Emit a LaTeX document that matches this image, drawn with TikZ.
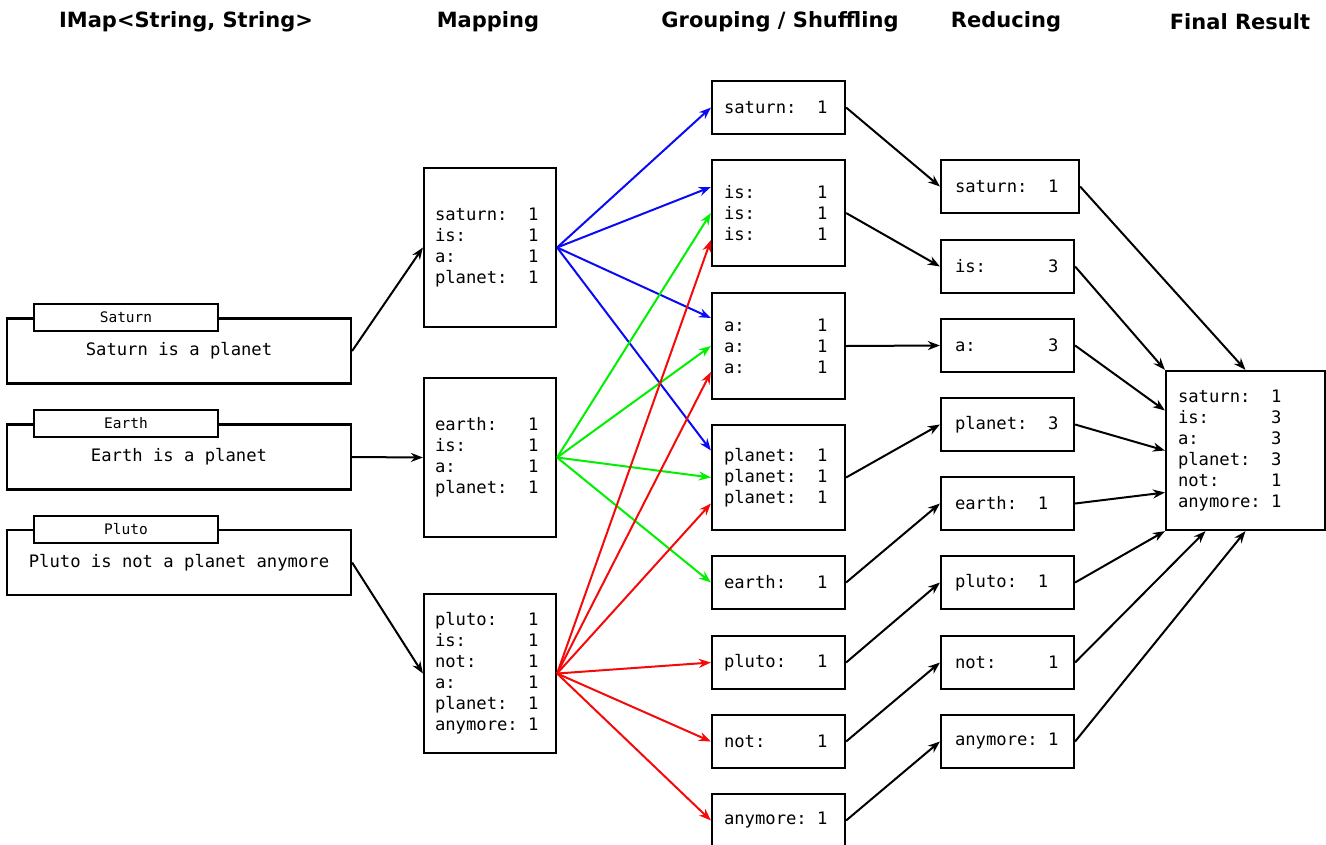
\documentclass[tikz,border=0pt]{standalone}
\usepackage{fontspec}
\setmainfont{DejaVu Sans}
\setmonofont{DejaVu Sans Mono}
\usetikzlibrary{arrows.meta,calc}
\newlength\mycw
\newcommand\kvline[3][9]{\settowidth\mycw{0}\makebox[#1\mycw][l]{#2}#3}
\definecolor{mblue}{RGB}{10,10,245}
\definecolor{mgreen}{RGB}{0,240,0}
\definecolor{mred}{RGB}{245,10,10}
\tikzset{
  x=1pt,y=-1pt,
  mono/.style={font=\ttfamily\fontsize{17.2}{21}\selectfont},
  frame/.style={draw, line width=2.2pt, fill=white, inner ysep=0pt},
  inbox/.style={frame, mono, minimum width=344, minimum height=65},
  tabbox/.style={frame, font=\ttfamily\fontsize{14.5}{16}\selectfont, minimum width=184, minimum height=27},
  mapbox/.style={frame, mono, align=left, text width=110, inner xsep=11, minimum height=159},
  shufbox/.style={frame, mono, align=left, text width=109, inner xsep=12},
  redbox/.style={frame, mono, align=left, text width=105, inner xsep=14, minimum height=53},
  finbox/.style={frame, mono, align=left, text width=135, inner xsep=12, minimum height=159},
  title/.style={font=\bfseries\fontsize{21}{25}\selectfont},
  arr/.style={-{Stealth[length=12pt,width=9pt]}, line width=2pt},
}
\begin{document}
\begin{tikzpicture}
\useasboundingbox (0,0) rectangle (1326,844);

% titles
\node[title] (t1) at (186,22) {IMap<String, String>};
\node[title] (t2) at (488,22) {Mapping};
\node[title] (t3) at (780,22) {Grouping / Shuffling};
\node[title] (t4) at (1006,22) {Reducing};
\node[title] (t5) at (1240,22) {Final Result};

% inputs
\node[inbox] (in1) at (179,351) {Saturn is a planet};
\node[tabbox] (tab1) at (126,317.5) {Saturn};
\node[inbox] (in2) at (179,457) {Earth is a planet};
\node[tabbox] (tab2) at (126,423.5) {Earth};
\node[inbox] (in3) at (179,562.5) {Pluto is not a planet anymore};
\node[tabbox] (tab3) at (126,529.5) {Pluto};

% mapping
\node[mapbox] (m1) at (490,247.5) {\kvline{saturn:}{1}\\\kvline{is:}{1}\\\kvline{a:}{1}\\\kvline{planet:}{1}};
\node[mapbox] (m2) at (490,457.5) {\kvline{earth:}{1}\\\kvline{is:}{1}\\\kvline{a:}{1}\\\kvline{planet:}{1}};
\node[mapbox] (m3) at (490,673.5) {\kvline{pluto:}{1}\\\kvline{is:}{1}\\\kvline{not:}{1}\\\kvline{a:}{1}\\\kvline{planet:}{1}\\\kvline{anymore:}{1}};

% shuffling
\node[shufbox, minimum height=53] (s1) at (778.5,107.5) {\kvline{saturn:}{1}};
\node[shufbox, minimum height=106] (s2) at (778.5,213) {\kvline{is:}{1}\\\kvline{is:}{1}\\\kvline{is:}{1}};
\node[shufbox, minimum height=106] (s3) at (778.5,346) {\kvline{a:}{1}\\\kvline{a:}{1}\\\kvline{a:}{1}};
\node[shufbox, minimum height=105] (s4) at (778.5,477.5) {\kvline{planet:}{1}\\\kvline{planet:}{1}\\\kvline{planet:}{1}};
\node[shufbox, minimum height=53] (s5) at (778.5,582.5) {\kvline{earth:}{1}};
\node[shufbox, minimum height=53] (s6) at (778.5,662.5) {\kvline{pluto:}{1}};
\node[shufbox, minimum height=53] (s7) at (778.5,741.5) {\kvline{not:}{1}};
\node[shufbox, minimum height=53] (s8) at (778.5,820.5) {\kvline{anymore:}{1}};

% reducing
\node[redbox, text width=110] (r1) at (1010,186.5) {\kvline{saturn:}{1}};
\node[redbox] (r2) at (1007.5,266.5) {\kvline{is:}{3}};
\node[redbox] (r3) at (1007.5,345.5) {\kvline{a:}{3}};
\node[redbox] (r4) at (1007.5,424.5) {\kvline{planet:}{3}};
\node[redbox] (r5) at (1007.5,503.5) {\kvline[8]{earth:}{1}};
\node[redbox] (r6) at (1007.5,582.5) {\kvline[8]{pluto:}{1}};
\node[redbox] (r7) at (1007.5,662.5) {\kvline{not:}{1}};
\node[redbox] (r8) at (1007.5,741.5) {\kvline{anymore:}{1}};

% final
\node[finbox] (f) at (1245.5,450.5) {\kvline{saturn:}{1}\\\kvline{is:}{3}\\\kvline{a:}{3}\\\kvline{planet:}{3}\\\kvline{not:}{1}\\\kvline{anymore:}{1}};

% input -> mapping
\draw[arr] (in1.east) -- (m1.west);
\draw[arr] (in2.east) -- (m2.west);
\draw[arr] (in3.east) -- (m3.west);

% mapping -> shuffling
\begin{scope}[mblue]
\draw[arr] (m1.east) -- (s1.west);
\draw[arr] (m1.east) -- ([yshift=26]s2.west);
\draw[arr] (m1.east) -- ([yshift=28]s3.west);
\draw[arr] (m1.east) -- ([yshift=27]s4.west);
\end{scope}
\begin{scope}[mgreen]
\draw[arr] (m2.east) -- (s2.west);
\draw[arr] (m2.east) -- (s3.west);
\draw[arr] (m2.east) -- (s4.west);
\draw[arr] (m2.east) -- (s5.west);
\end{scope}
\begin{scope}[mred]
\draw[arr] (m3.east) -- ([yshift=-27]s2.west);
\draw[arr] (m3.east) -- ([yshift=-26]s3.west);
\draw[arr] (m3.east) -- ([yshift=-26]s4.west);
\draw[arr] (m3.east) -- (s6.west);
\draw[arr] (m3.east) -- (s7.west);
\draw[arr] (m3.east) -- (s8.west);
\end{scope}

% shuffling -> reducing
\draw[arr] (s1.east) -- (r1.west);
\draw[arr] (s2.east) -- (r2.west);
\draw[arr] (s3.east) -- (r3.west);
\draw[arr] (s4.east) -- (r4.west);
\draw[arr] (s5.east) -- (r5.west);
\draw[arr] (s6.east) -- (r6.west);
\draw[arr] (s7.east) -- (r7.west);
\draw[arr] (s8.east) -- (r8.west);

% reducing -> final
\draw[arr] (r1.east) -- (f.north);
\draw[arr] (r2.east) -- (f.north west);
\draw[arr] (r3.east) -- ([yshift=40]f.west);
\draw[arr] (r4.east) -- (f.west);
\draw[arr] (r5.east) -- ([yshift=-42]f.west);
\draw[arr] (r6.east) -- (f.south west);
\draw[arr] (r7.east) -- ([xshift=-40]f.south);
\draw[arr] (r8.east) -- (f.south);
\end{tikzpicture}
\end{document}
